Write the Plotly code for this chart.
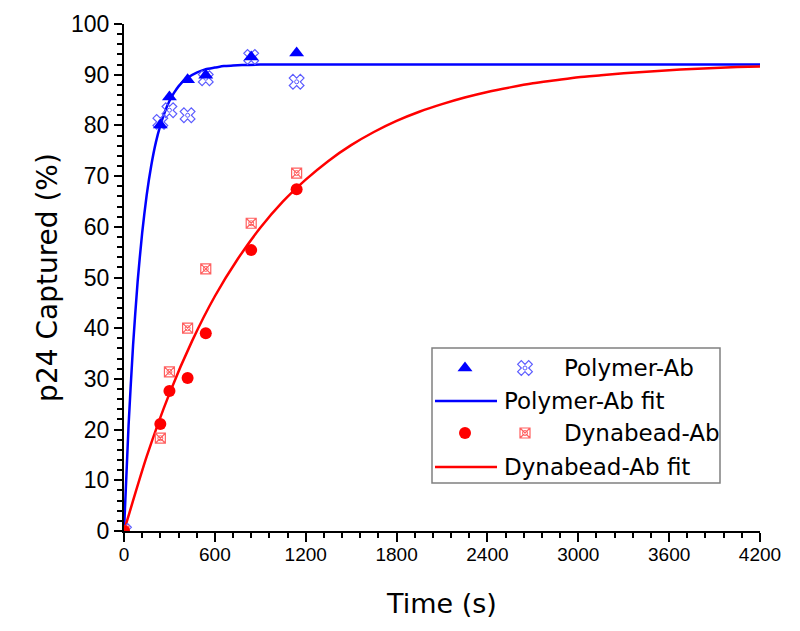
import plotly.graph_objects as go

# ---------------- data ----------------
times = [0, 240, 300, 420, 540, 840, 1140]
polymer_a = [0, 80.1, 85.6, 89.0, 89.9, 93.5, 94.3]      # filled triangles
polymer_b = [0, 80.7, 83.0, 82.0, 89.3, 93.5, 88.6]      # crossed markers
dyna_a = [0, 21.1, 27.6, 30.2, 39.0, 55.4, 67.4]         # filled circles
dyna_b = [0, 18.3, 31.4, 40.0, 51.7, 60.7, 70.6]         # hatched squares

poly_fit_t = [0, 30, 60, 90, 120, 150, 180, 210, 240, 270, 300, 330, 360, 390, 420,
              480, 540, 600, 660, 720, 780, 900, 1200, 4200]
poly_fit_y = [0, 20.7, 36.7, 49.2, 58.8, 66.3, 72.1, 76.6, 80.0, 82.7, 84.8, 86.4, 87.7,
              88.7, 89.4, 90.4, 91.1, 91.4, 91.7, 91.8, 91.9, 92.0, 92.0, 92.0]

dyna_fit_t = [0, 150, 300, 450, 600, 750, 900, 1050, 1200, 1350, 1500, 1650, 1800, 1950,
              2100, 2250, 2400, 2550, 2700, 2850, 3000, 3150, 3300, 3450, 3600, 3750,
              3900, 4050, 4200]
dyna_fit_y = [0, 14.7, 27.1, 37.5, 46.3, 53.6, 59.8, 65.0, 69.3, 73.0, 76.1, 78.7, 80.9,
              82.7, 84.2, 85.5, 86.6, 87.5, 88.3, 88.9, 89.5, 89.9, 90.3, 90.6, 90.9,
              91.1, 91.3, 91.5, 91.6]

x_ticks = [0, 600, 1200, 1800, 2400, 3000, 3600, 4200]
y_ticks = [0, 10, 20, 30, 40, 50, 60, 70, 80, 90, 100]

legend_labels = ["Polymer-Ab", "Polymer-Ab fit", "Dynabead-Ab", "Dynabead-Ab fit"]

BLUE = "#0000ff"
LBLUE = "#5c5cff"
RED = "#ff0000"
LRED = "#ff6060"
FONT = "DejaVu Sans"
TFONT = "Liberation Sans"

fig = go.Figure()

fig.add_trace(go.Scatter(x=poly_fit_t, y=poly_fit_y, mode="lines",
                         line=dict(color=BLUE, width=2.5, shape="spline", smoothing=0.6)))
fig.add_trace(go.Scatter(x=dyna_fit_t, y=dyna_fit_y, mode="lines",
                         line=dict(color=RED, width=2.5, shape="spline", smoothing=0.6)))


def poly_b_markers():
    return [dict(symbol="x-open", size=13, color=LBLUE, line=dict(width=1.2)),
            dict(symbol="circle-open", size=4, color=LBLUE, line=dict(width=1))]


def dyna_b_markers():
    return [dict(symbol="square-x-open", size=10, color=LRED, line=dict(width=1.2)),
            dict(symbol="circle-open", size=5, color=LRED, line=dict(width=1))]


for m in poly_b_markers():
    fig.add_trace(go.Scatter(x=times, y=polymer_b, mode="markers", marker=m))
fig.add_trace(go.Scatter(x=times, y=polymer_a, mode="markers",
                         marker=dict(symbol="triangle-up", size=13, color=BLUE)))
for m in dyna_b_markers():
    fig.add_trace(go.Scatter(x=times, y=dyna_b, mode="markers", marker=m))
fig.add_trace(go.Scatter(x=times, y=dyna_a, mode="markers",
                         marker=dict(symbol="circle", size=12, color=RED)))

# ---------------- custom legend (overlay pixel-like axes) ----------------
lx2 = dict(xaxis="x2", yaxis="y2", showlegend=False, hoverinfo="skip")
rows = [368, 401, 433, 467]
fig.add_trace(go.Scatter(x=[465], y=[rows[0]], mode="markers",
                         marker=dict(symbol="triangle-up", size=13, color=BLUE), **lx2))
for m in poly_b_markers():
    fig.add_trace(go.Scatter(x=[525], y=[rows[0]], mode="markers", marker=m, **lx2))
fig.add_trace(go.Scatter(x=[435, 497], y=[rows[1], rows[1]], mode="lines",
                         line=dict(color=BLUE, width=2.5), **lx2))
fig.add_trace(go.Scatter(x=[465], y=[rows[2]], mode="markers",
                         marker=dict(symbol="circle", size=12, color=RED), **lx2))
for m in dyna_b_markers():
    fig.add_trace(go.Scatter(x=[525], y=[rows[2]], mode="markers", marker=m, **lx2))
fig.add_trace(go.Scatter(x=[435, 497], y=[rows[3], rows[3]], mode="lines",
                         line=dict(color=RED, width=2.5), **lx2))

text_x = [562, 502, 562, 502]
annotations = []
for lab, tx, ry in zip(legend_labels, text_x, rows):
    annotations.append(dict(x=tx, y=ry, xref="x2", yref="y2", text=lab, showarrow=False,
                            xanchor="left", yanchor="middle",
                            font=dict(family=FONT, size=23, color="black")))

fig.update_layout(
    width=792, height=623,
    margin=dict(l=116, r=40, t=16, b=100, autoexpand=False),
    paper_bgcolor="white", plot_bgcolor="white",
    showlegend=False,
    annotations=annotations,
    shapes=[dict(type="rect", xref="x2", yref="y2", x0=432, x1=720, y0=348, y1=483,
                 line=dict(color="#808080", width=1.5), fillcolor="rgba(0,0,0,0)")],
    xaxis=dict(range=[0, 4200], tickvals=x_ticks, ticktext=[str(v) for v in x_ticks],
               showgrid=False, zeroline=False, showline=True, linecolor="black", linewidth=2,
               ticks="outside", ticklen=9, tickwidth=2, tickcolor="black", ticklabelstandoff=-4,
               minor=dict(dtick=120, ticks="outside", ticklen=5, tickwidth=1.5, tickcolor="black"),
               tickfont=dict(family=TFONT, size=19, color="black"),
               title=dict(text="Time (s)", font=dict(family=FONT, size=27, color="black"), standoff=30)),
    yaxis=dict(range=[0, 100], tickvals=y_ticks, ticktext=[str(v) for v in y_ticks],
               showgrid=False, zeroline=False, showline=True, linecolor="black", linewidth=2,
               ticks="outside", ticklen=8, tickwidth=2, tickcolor="black",
               minor=dict(dtick=2, ticks="outside", ticklen=5, tickwidth=1.5, tickcolor="black"),
               tickfont=dict(family=TFONT, size=23, color="black"),
               title=dict(text="p24 Captured (%)", font=dict(family=FONT, size=28, color="black"), standoff=5)),
    xaxis2=dict(domain=[0, 1], range=[124, 760], visible=False, overlaying="x", anchor="y2", fixedrange=True),
    yaxis2=dict(domain=[0, 1], range=[531, 24], visible=False, overlaying="y", anchor="x2", fixedrange=True),
)

fig.write_html("out.html")
